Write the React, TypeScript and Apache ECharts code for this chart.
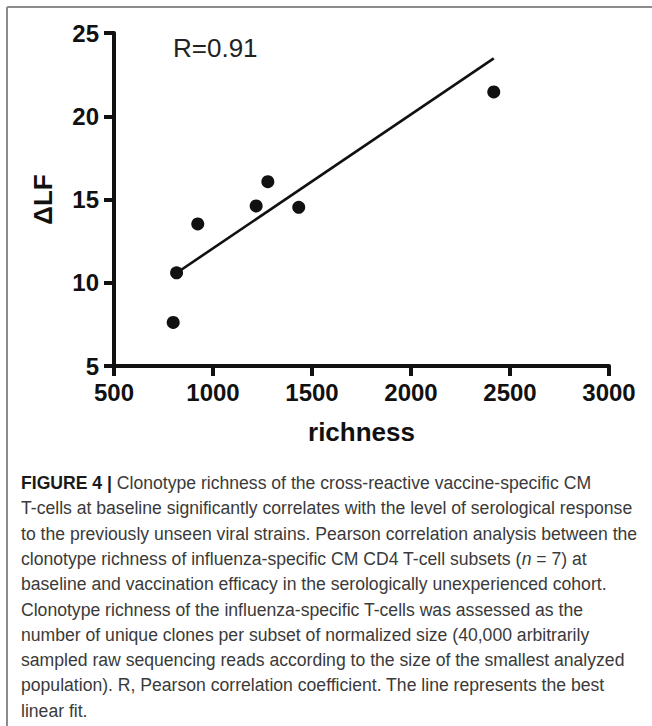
import React, { useEffect, useRef } from "react";
import * as echarts from "echarts";

// ---- Data ----
const richness = [799, 816, 923, 1218, 1277, 1433, 2418];
const deltaLF = [7.62, 10.6, 13.53, 14.61, 16.07, 14.53, 21.46];
const fitX = [799, 2418];
const fitY = [10.45, 23.48];
const xTicks = { min: 500, max: 3000, interval: 500 };
const yTicks = { min: 5, max: 25, interval: 5 };
const xName = "richness";
const yName = "ΔLF";
const rLabel = "R=0.91";
const captionLines = [
  "{b|FIGURE 4 |} Clonotype richness of the cross-reactive vaccine-specific CM",
  "T-cells at baseline significantly correlates with the level of serological response",
  "to the previously unseen viral strains. Pearson correlation analysis between the",
  "clonotype richness of influenza-specific CM CD4 T-cell subsets ({i|n} = 7) at",
  "baseline and vaccination efficacy in the serologically unexperienced cohort.",
  "Clonotype richness of the influenza-specific T-cells was assessed as the",
  "number of unique clones per subset of normalized size (40,000 arbitrarily",
  "sampled raw sequencing reads according to the size of the smallest analyzed",
  "population). R, Pearson correlation coefficient. The line represents the best",
  "linear fit.",
];

const FONT = "'Liberation Sans', Arial, Helvetica, sans-serif";

export default function App() {
  const ref = useRef<HTMLDivElement>(null);
  useEffect(() => {
    if (!ref.current) return;
    const chart = echarts.init(ref.current, null, { renderer: "svg" });
    const capSize = 17.6;
    const capTop = 483;
    const capStep = 25.3;
    const captionGraphics = captionLines.map((t, i) => ({
      type: "text",
      x: 21,
      y: capTop + i * capStep,
      style: {
        text: t,
        fontFamily: FONT,
        fontSize: capSize,
        fill: "#3a3a3a",
        verticalAlign: "middle",
        align: "left",
        rich: {
          b: { fontFamily: FONT, fontSize: capSize, fontWeight: "bold", fill: "#1a1a1a" },
          i: { fontFamily: FONT, fontSize: capSize, fontStyle: "italic", fill: "#3a3a3a" },
        },
      },
    }));
    chart.setOption({
      animation: false,
      backgroundColor: "#ffffff",
      grid: { left: 114, right: 43, top: 33, bottom: 360, containLabel: false },
      xAxis: {
        type: "value",
        min: xTicks.min,
        max: xTicks.max,
        interval: xTicks.interval,
        name: xName,
        nameLocation: "middle",
        nameGap: 53,
        nameTextStyle: { fontFamily: FONT, fontSize: 26, fontWeight: "bold", color: "#111" },
        axisLine: { show: true, lineStyle: { color: "#111", width: 4 } },
        axisTick: { show: true, length: 10, lineStyle: { color: "#111", width: 4 } },
        axisLabel: {
          fontFamily: FONT,
          fontSize: 24,
          fontWeight: "bold",
          color: "#111",
          margin: 14,
          formatter: (v: number) => String(v),
        },
        splitLine: { show: false },
      },
      yAxis: {
        type: "value",
        min: yTicks.min,
        max: yTicks.max,
        interval: yTicks.interval,
        name: yName,
        nameLocation: "middle",
        nameGap: 58,
        nameRotate: 90,
        nameTextStyle: { fontFamily: FONT, fontSize: 26, fontWeight: "bold", color: "#111" },
        axisLine: { show: true, lineStyle: { color: "#111", width: 4 } },
        axisTick: { show: true, length: 10, lineStyle: { color: "#111", width: 4 } },
        axisLabel: {
          fontFamily: FONT,
          fontSize: 24,
          fontWeight: "bold",
          color: "#111",
          margin: 15,
          formatter: (v: number) => String(v),
        },
        splitLine: { show: false },
      },
      series: [
        {
          type: "line",
          data: fitX.map((x, i) => [x, fitY[i]]),
          symbol: "none",
          lineStyle: { color: "#111", width: 2.6 },
          z: 2,
        },
        {
          type: "scatter",
          data: richness.map((x, i) => [x, deltaLF[i]]),
          symbol: "circle",
          symbolSize: 13,
          itemStyle: { color: "#111", opacity: 1 },
          z: 3,
        },
      ],
      graphic: [
        { type: "line", shape: { x1: 7, y1: 7, x2: 652, y2: 7 }, style: { stroke: "#8c8c8c", lineWidth: 2 } },
        { type: "line", shape: { x1: 7, y1: 7, x2: 7, y2: 726 }, style: { stroke: "#8c8c8c", lineWidth: 2 } },
        {
          type: "text",
          x: 173,
          y: 48,
          style: { text: rLabel, fontFamily: FONT, fontSize: 26, fill: "#222", verticalAlign: "middle", align: "left" },
        },
        ...captionGraphics,
      ],
    });
    return () => chart.dispose();
  }, []);
  return (
    <div
      ref={ref}
      style={{ position: "absolute", left: 0, top: 0, width: 652, height: 726, background: "#fff" }}
    />
  );
}
